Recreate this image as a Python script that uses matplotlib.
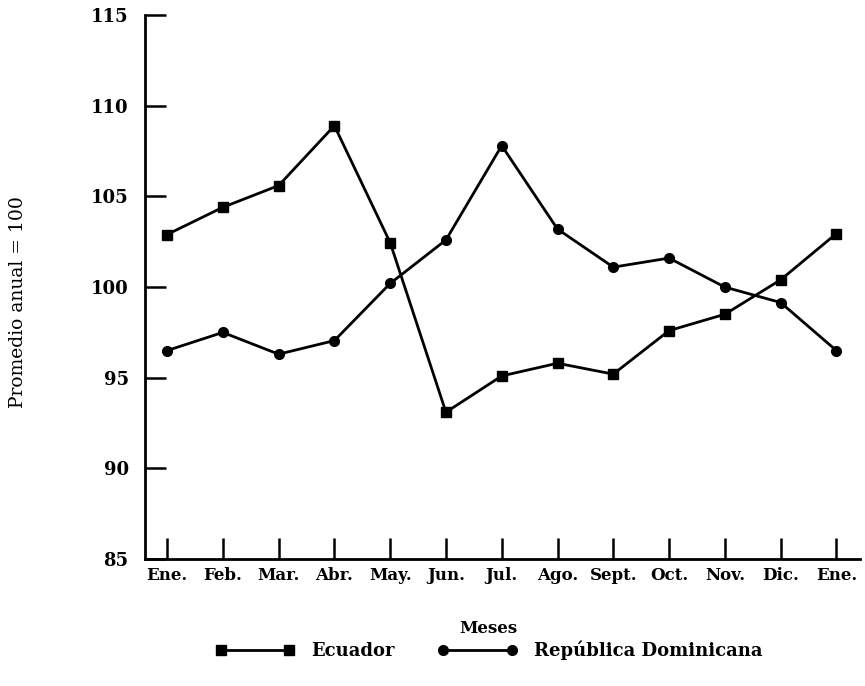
import numpy as np
import matplotlib.pyplot as plt

meses = ["Ene.", "Feb.", "Mar.", "Abr.", "May.", "Jun.", "Jul.",
         "Ago.", "Sept.", "Oct.", "Nov.", "Dic.", "Ene."]
ecuador = [102.9, 104.4, 105.6, 108.9, 102.45, 93.1, 95.1,
           95.8, 95.2, 97.6, 98.5, 100.4, 102.95]
rep_dom = [96.5, 97.5, 96.3, 97.05, 100.2, 102.6, 107.8,
           103.2, 101.1, 101.6, 100.0, 99.15, 96.5]
yticks = [85, 90, 95, 100, 105, 110, 115]

plt.rcParams['font.family'] = ['DejaVu Serif']

fig = plt.figure(figsize=(8.65, 6.86), dpi=100)
ax = fig.add_axes([0.168, 0.185, 0.826, 0.793])

x = np.arange(len(meses))
ax.plot(x, ecuador, color='black', lw=2, marker='s', ms=7, label='Ecuador')
ax.plot(x, rep_dom, color='black', lw=2, marker='o', ms=7,
        label='República Dominicana')

ax.set_xlim(-0.39, 12.42)
ax.set_ylim(85, 115)
ax.set_xticks(x)
ax.set_xticklabels(meses, fontsize=12, fontweight='bold')
ax.set_yticks(yticks)
ax.set_yticklabels([str(v) for v in yticks], fontsize=13, fontweight='bold')
ax.tick_params(axis='both', direction='in', length=15, width=1.8, color='black')
ax.tick_params(axis='x', pad=6)
ax.tick_params(axis='y', pad=12)

for s in ['top', 'right']:
    ax.spines[s].set_visible(False)
for s in ['left', 'bottom']:
    ax.spines[s].set_linewidth(2)

ax.set_ylabel('Promedio anual = 100', fontsize=13.5)
ax.yaxis.set_label_coords(-0.165, 0.472)
fig.text(0.564, 0.084, 'Meses', ha='center', va='center', fontsize=12,
         fontweight='bold')

fig.legend(loc='center', bbox_to_anchor=(0.565, 0.052), ncol=2, frameon=False,
           numpoints=2, handlelength=4.4, columnspacing=2.4, handletextpad=0.9,
           prop={'size': 13, 'weight': 'bold'})

fig.savefig('out.png', dpi=100)
